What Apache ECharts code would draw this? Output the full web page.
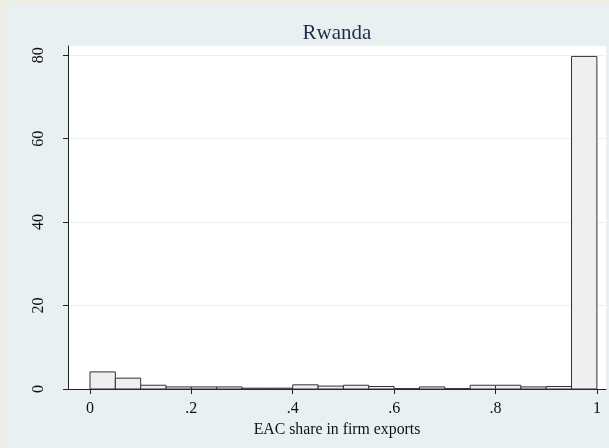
<!DOCTYPE html>
<html>
<head>
<meta charset="utf-8">
<script src="https://cdn.jsdelivr.net/npm/echarts@6/dist/echarts.min.js"></script>
<style>
html, body { margin: 0; padding: 0; background: #efeee5; }
#main { position: absolute; left: 6px; top: 3px; width: 603px; height: 445px; background: #e9f0f2; }
</style>
</head>
<body>
<div id="main"></div>
<script>
// histogram bins (width .05) and percent heights
var binStarts = [0, .05, .1, .15, .2, .25, .3, .35, .4, .45, .5, .55, .6, .65, .7, .75, .8, .85, .9, .95];
var binWidth = 0.05;
var percents = [4.1, 2.6, 0.9, 0.5, 0.5, 0.5, 0.2, 0.2, 1.0, 0.7, 0.9, 0.6, 0.1, 0.5, 0.1, 0.9, 0.9, 0.5, 0.6, 79.7];
var xTicks = [0, 0.2, 0.4, 0.6, 0.8, 1];
var yTicks = [0, 20, 40, 60, 80];

var myChart = echarts.init(document.getElementById('main'));

var data = binStarts.map(function (s, i) { return [s, s + binWidth, percents[i]]; });

var option = {
    animation: false,
    title: {
        text: 'Rwanda',
        left: 326,
        textAlign: 'center',
        top: 15,
        textStyle: { fontFamily: 'Liberation Serif', fontWeight: 'normal', fontSize: 21, color: '#1f2d4d' }
    },
    grid: { left: 62, right: 3, top: 43, bottom: 59 },
    xAxis: {
        type: 'value',
        min: -0.0434, max: 1.018,
        name: 'EAC share in firm exports',
        nameLocation: 'middle',
        nameGap: 26,
        nameTextStyle: { fontFamily: 'Liberation Serif', fontSize: 15.8, color: '#111' },
        splitLine: { show: false },
        axisLine: { onZero: false, lineStyle: { color: '#222', width: 1 } },
        axisTick: { show: true, length: 5, customValues: xTicks, lineStyle: { color: '#222' } },
        axisLabel: {
            customValues: xTicks,
            fontFamily: 'Liberation Serif', fontSize: 16, color: '#111', margin: 12,
            formatter: function (v) { return v === 0 ? '0' : v === 1 ? '1' : String(+v.toFixed(1)).replace(/^0/, ''); }
        }
    },
    yAxis: {
        type: 'value',
        min: 0, max: 82.2,
        axisLine: { show: true, onZero: false, lineStyle: { color: '#222', width: 1 } },
        axisTick: { show: true, length: 5, customValues: yTicks, lineStyle: { color: '#222' } },
        axisLabel: {
            customValues: yTicks, rotate: 90,
            fontFamily: 'Liberation Serif', fontSize: 16, color: '#111', margin: 21
        },
        splitLine: { show: true, lineStyle: { color: '#e9f0f2', width: 1 } }
    },
    series: [{
        type: 'custom',
        data: data,
        encode: { x: [0, 1], y: 2 },
        renderItem: function (params, api) {
            var p0 = api.coord([api.value(0), api.value(2)]);
            var p1 = api.coord([api.value(1), 0]);
            return {
                type: 'rect',
                shape: { x: p0[0], y: p0[1], width: p1[0] - p0[0], height: p1[1] - p0[1] },
                style: { fill: '#efefef', stroke: '#333', lineWidth: 1 }
            };
        }
    }]
};

myChart.setOption(option);
// white plot region like the reference
var g = myChart.getModel().getComponent('grid').coordinateSystem.getRect();
myChart.setOption({
    graphic: [{ type: 'rect', z: -10, shape: { x: g.x, y: g.y, width: g.width, height: g.height }, style: { fill: '#ffffff' }, silent: true }]
});
</script>
</body>
</html>
